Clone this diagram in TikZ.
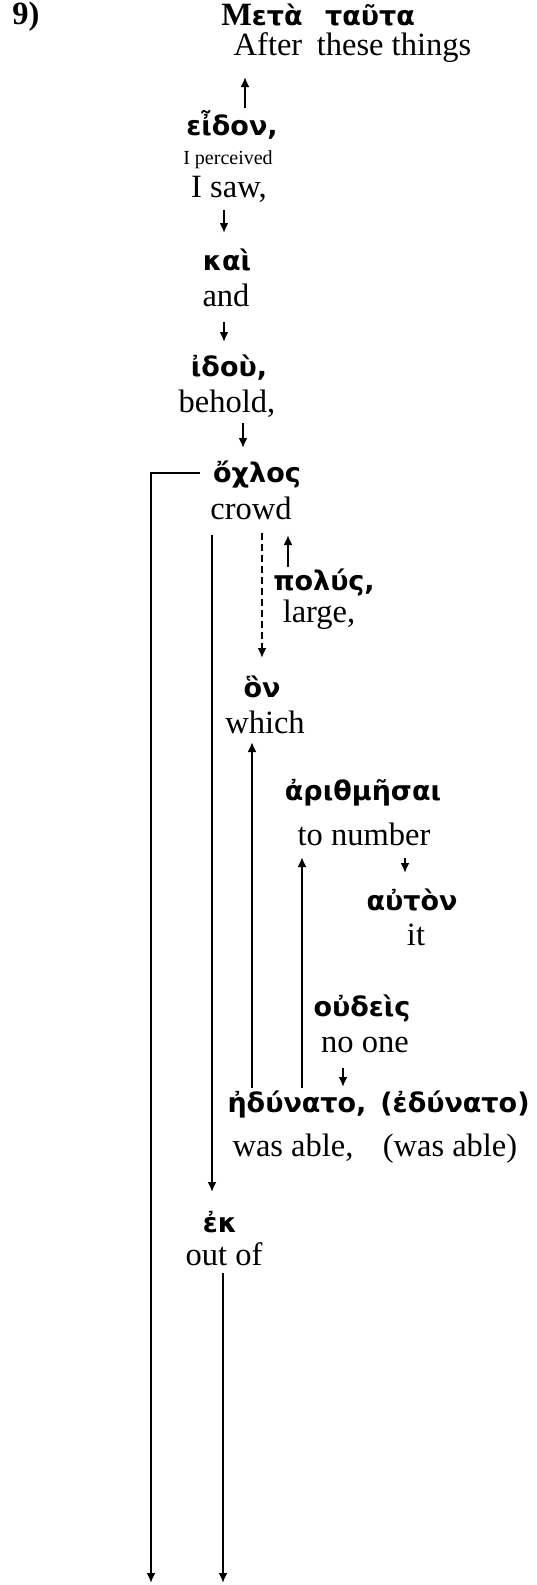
\documentclass[tikz,border=0pt]{standalone}
\usepackage{fontspec}
\setmainfont{Liberation Serif}
\newfontfamily\grk{DejaVu Sans}
\usetikzlibrary{arrows.meta}
\begin{document}
\begin{tikzpicture}[x=1pt,y=-1pt,
  gr/.style={inner sep=0pt,anchor=base,font=\grk\bfseries\fontsize{27}{32}\selectfont},
  en/.style={inner sep=0pt,anchor=base,font=\fontsize{32.5}{38}\selectfont},
  sm/.style={inner sep=0pt,anchor=base,font=\fontsize{20}{24}\selectfont},
  tip/.style={-{Latex[length=10pt,width=9pt]}},
  arr/.style={line width=2.4pt,tip},
  ln/.style={line width=2pt},
  dsh/.style={line width=2.4pt,dash pattern=on 7pt off 4pt,tip}]
\useasboundingbox (0,0) rectangle (537,1585);
% texts
\node[en,font=\bfseries\fontsize{32.5}{38}\selectfont] (num) at (26,24) {9)};
\node[gr] (meta) at (262,25) {{\rmfamily\bfseries\fontsize{32.5}{38}\selectfont Μ}ετὰ};
\node[gr] (tauta) at (370,25) {ταῦτα};
\node[en] (after) at (268,55) {After};
\node[en] (these) at (394,55) {these things};
\node[gr] (eidon) at (232,135) {εἶδον,};
\node[sm] (perc) at (228,164) {I perceived};
\node[en] (saw) at (229,197) {I saw,};
\node[gr] (kai) at (227,270) {καὶ};
\node[en] (and) at (226,306) {and};
\node[gr] (idou) at (229,376) {ἰδοὺ,};
\node[en] (behold) at (227,412) {behold,};
\node[gr] (ochlos) at (257,482) {ὄχλος};
\node[en] (crowd) at (251,519) {crowd};
\node[gr] (polus) at (324,590) {πολύς,};
\node[en] (large) at (319,622) {large,};
\node[gr] (hon) at (262,697) {ὃν};
\node[en] (which) at (265,733) {which};
\node[gr] (arith) at (363,800) {ἀριθμῆσαι};
\node[en] (tonum) at (364,845) {to number};
\node[gr] (auton) at (412,910) {αὐτὸν};
\node[en] (it) at (416,945) {it};
\node[gr] (oudeis) at (362,1016) {οὐδεὶς};
\node[en] (noone) at (365,1052) {no one};
\node[gr] (edun) at (297,1112) {ἠδύνατο,};
\node[gr] (edun2) at (455,1112) {(ἐδύνατο)};
\node[en] (able) at (293,1156) {was able,};
\node[en] (able2) at (450,1156) {(was able)};
\node[gr] (ek) at (220,1232) {ἐκ};
\node[en] (outof) at (224,1265) {out of};
% connector end points
\coordinate (e1) at (245,108); \coordinate (e1t) at (245,77);
\coordinate (e2) at (224,210); \coordinate (e2t) at (224,233);
\coordinate (e3) at (224,322); \coordinate (e3t) at (224,342);
\coordinate (e4) at (243,423); \coordinate (e4t) at (243,448);
\coordinate (h1) at (200,473); \coordinate (h2) at (151,473); \coordinate (h3) at (151,1583);
\coordinate (c1) at (212,535); \coordinate (c1t) at (212,1192);
\coordinate (d1) at (262,533); \coordinate (d1t) at (262,658);
\coordinate (p1) at (288,567); \coordinate (p1t) at (288,535);
\coordinate (w1) at (252,1088); \coordinate (w1t) at (252,742);
\coordinate (r1) at (302,1088); \coordinate (r1t) at (302,857);
\coordinate (t1) at (405,858); \coordinate (t1t) at (405,873);
\coordinate (n1) at (343,1068); \coordinate (n1t) at (343,1087);
\coordinate (o1) at (223,1273); \coordinate (o1t) at (223,1583);
% connectors
\draw[arr] (e1) -- (e1t);
\draw[arr] (e2) -- (e2t);
\draw[arr] (e3) -- (e3t);
\draw[arr] (e4) -- (e4t);
\draw[ln,tip] (h1) -- (h2) -- (h3);
\draw[arr] (c1) -- (c1t);
\draw[dsh] (d1) -- (d1t);
\draw[arr] (p1) -- (p1t);
\draw[arr] (w1) -- (w1t);
\draw[arr] (r1) -- (r1t);
\draw[arr] (t1) -- (t1t);
\draw[arr] (n1) -- (n1t);
\draw[arr] (o1) -- (o1t);
\end{tikzpicture}
\end{document}
